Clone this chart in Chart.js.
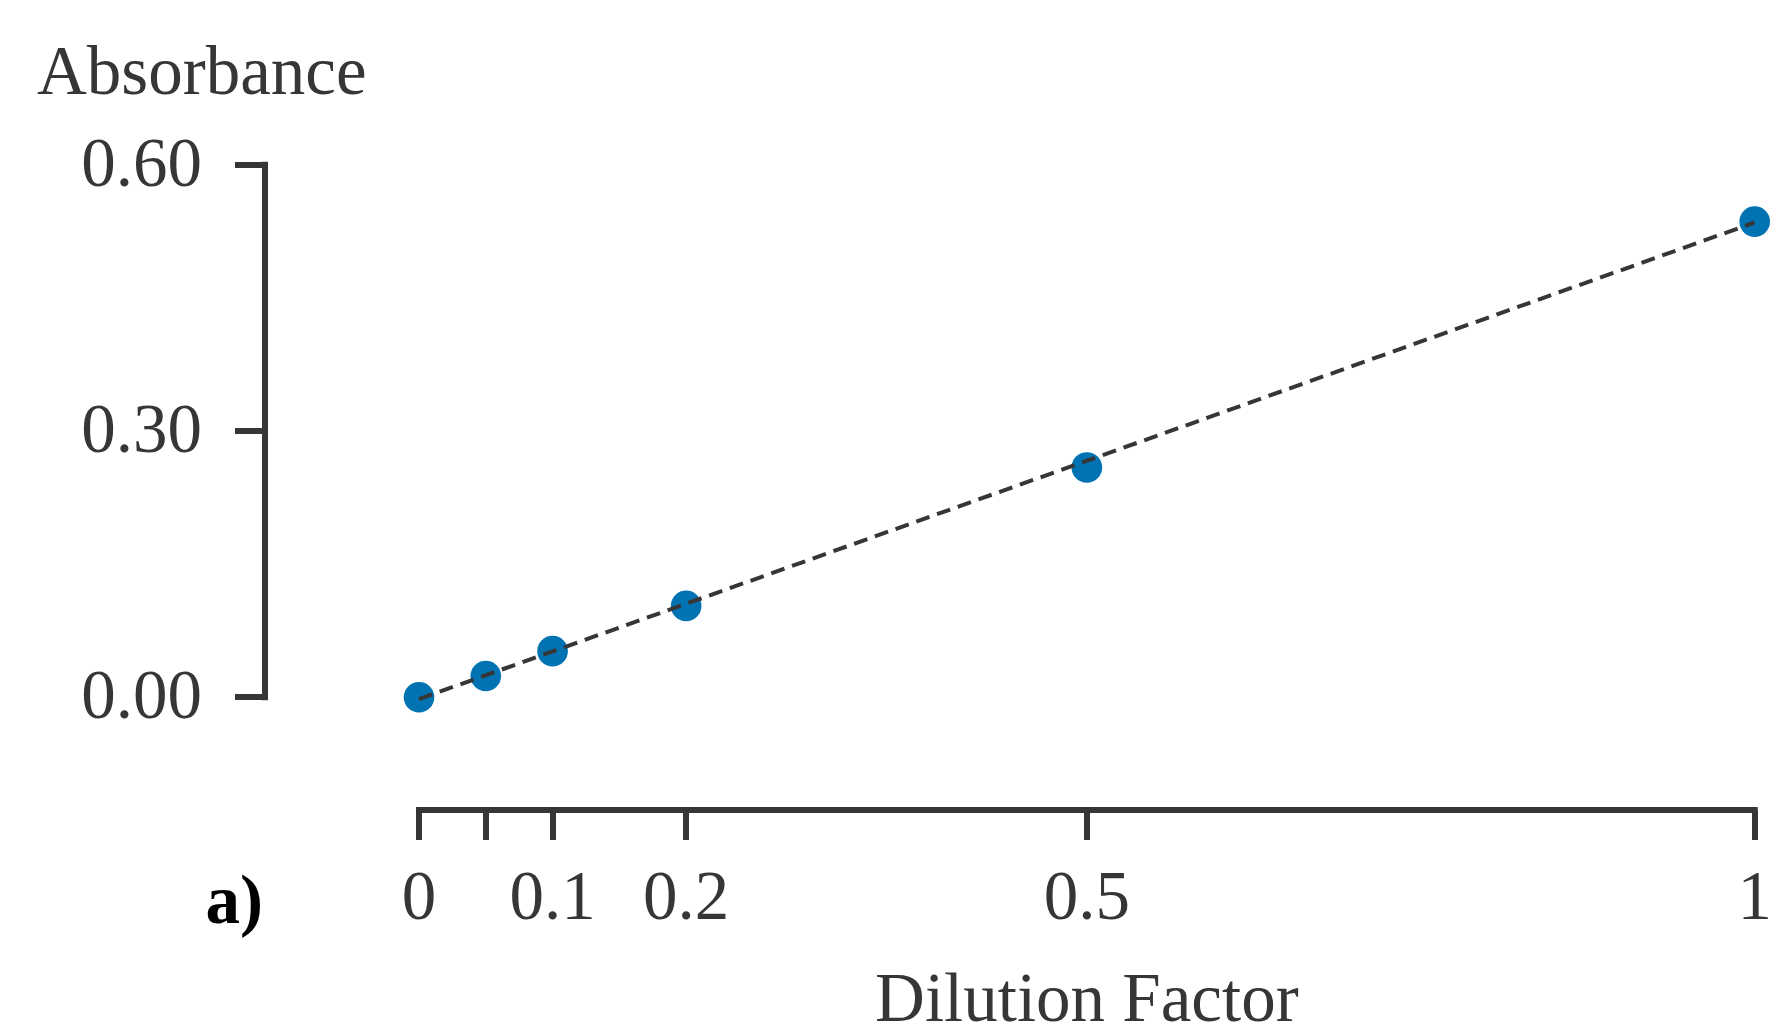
<!DOCTYPE html>
<html>
<head>
<meta charset="utf-8">
<script src="https://cdn.jsdelivr.net/npm/chart.js@4.4.0/dist/chart.umd.min.js"></script>
<style>
  html, body { margin: 0; padding: 0; background: #fff; }
  canvas { display: block; }
</style>
</head>
<body>
<canvas id="absorbanceChart" width="1770" height="1025"></canvas>
<script>
// measured points
const dilution = [0, 0.05, 0.1, 0.2, 0.5, 1];
const absorbance = [0.0, 0.024, 0.052, 0.103, 0.259, 0.536];

// linear fit (dashed line)
const fitX = [0, 1];
const fitY = [-0.002, 0.535];

// tick values and labels
const xTickValues = [0, 0.05, 0.1, 0.2, 0.5, 1];
const xTickLabels = ["0", "", "0.1", "0.2", "0.5", "1"];
const yTickValues = [0, 0.3, 0.6];
const yTickLabels = ["0.00", "0.30", "0.60"];

const textColor = "#363636";
const axisColor = "#363636";
const pointColor = "#0173b2";
const fontFamily = "'Liberation Serif', 'Times New Roman', serif";
const fontSize = 69;
const axisWidth = 6;

// draws the trimmed spines, the x axis title and the panel letter
const trimmedAxes = {
	id: "trimmedAxes",
	afterDraw(chart) {
		const ctx = chart.ctx;
		const x = chart.scales.x;
		const y = chart.scales.y;
		const area = chart.chartArea;

		ctx.save();
		ctx.strokeStyle = axisColor;
		ctx.lineWidth = axisWidth;
		ctx.lineCap = "square";

		// y spine from first to last tick
		ctx.beginPath();
		ctx.moveTo(area.left, y.getPixelForValue(yTickValues[0]));
		ctx.lineTo(area.left, y.getPixelForValue(yTickValues[yTickValues.length - 1]));
		ctx.stroke();

		// x spine from first to last tick
		ctx.beginPath();
		ctx.moveTo(x.getPixelForValue(xTickValues[0]), area.bottom);
		ctx.lineTo(x.getPixelForValue(xTickValues[xTickValues.length - 1]), area.bottom);
		ctx.stroke();

		// x axis title, centred on the data range
		ctx.fillStyle = textColor;
		ctx.font = fontSize + "px " + fontFamily;
		ctx.textAlign = "center";
		ctx.textBaseline = "alphabetic";
		ctx.fillText("Dilution Factor", x.getPixelForValue(0.5), 1021);

		// panel letter
		ctx.fillStyle = "#000";
		ctx.font = "bold " + fontSize + "px " + fontFamily;
		ctx.textAlign = "right";
		ctx.fillText("a)", 263, 923);
		ctx.restore();
	},
};

const ctx = document.getElementById("absorbanceChart").getContext("2d");
const chart = new Chart(ctx, {
	type: "scatter",
	data: {
		datasets: [
			{
				type: "line",
				label: "Fit",
				data: fitX.map((v, i) => ({ x: v, y: fitY[i] })),
				borderColor: axisColor,
				borderWidth: 4,
				borderDash: [14, 8],
				pointRadius: 0,
				fill: false,
				order: 0,
			},
			{
				label: "Absorbance",
				data: dilution.map((v, i) => ({ x: v, y: absorbance[i] })),
				backgroundColor: pointColor,
				borderWidth: 0,
				pointRadius: 15.3,
				clip: false,
				order: 1,
			},
		],
	},
	options: {
		responsive: false,
		animation: false,
		devicePixelRatio: 1,
		layout: {
			padding: { left: 37, right: 15, top: 0, bottom: 0 },
		},
		plugins: {
			legend: { display: false },
			tooltip: { enabled: false },
			title: {
				display: true,
				text: "Absorbance",
				align: "start",
				color: textColor,
				font: { family: fontFamily, size: fontSize, weight: "normal" },
				padding: { top: 34, bottom: 48 },
			},
		},
		scales: {
			x: {
				type: "linear",
				min: -0.1153,
				max: 1,
				afterBuildTicks(scale) {
					scale.ticks = xTickValues.map((v) => ({ value: v }));
				},
				afterFit(scale) {
					scale.height = 215;
					scale.paddingLeft = 0;
					scale.paddingRight = 0;
				},
				border: { display: false },
				grid: {
					drawOnChartArea: false,
					drawTicks: true,
					tickLength: 30,
					tickColor: axisColor,
					tickWidth: axisWidth,
					lineWidth: axisWidth,
				},
				ticks: {
					padding: 19,
					color: textColor,
					maxRotation: 0,
					autoSkip: false,
					font: { family: fontFamily, size: fontSize },
					callback: (value, index) => xTickLabels[index],
				},
			},
			y: {
				type: "linear",
				min: -0.127,
				max: 0.6,
				afterBuildTicks(scale) {
					scale.ticks = yTickValues.map((v) => ({ value: v }));
				},
				afterFit(scale) {
					scale.width = 265 - 37;
					scale.paddingTop = 0;
					scale.paddingBottom = 0;
				},
				border: { display: false },
				grid: {
					drawOnChartArea: false,
					drawTicks: true,
					tickLength: 30,
					tickColor: axisColor,
					tickWidth: axisWidth,
					lineWidth: axisWidth,
				},
				ticks: {
					padding: 33,
					labelOffset: 3,
					color: textColor,
					autoSkip: false,
					font: { family: fontFamily, size: fontSize },
					callback: (value, index) => yTickLabels[index],
				},
			},
		},
	},
	plugins: [trimmedAxes],
});
</script>
</body>
</html>
